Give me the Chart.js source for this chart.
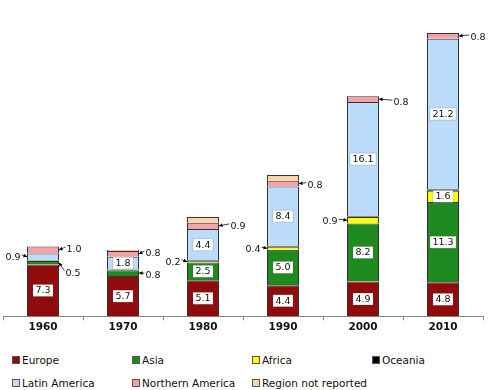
<!DOCTYPE html>
<html>
<head>
<meta charset="utf-8">
<script src="https://cdn.jsdelivr.net/npm/chart.js@4.4.1/dist/chart.umd.min.js"></script>
<style>
  body { margin: 0; background: #fff; font-family: "DejaVu Sans", Verdana, sans-serif; }
  #wrap { position: relative; width: 500px; height: 340px; }
  .leg { position: absolute; font-size: 10.5px; line-height: 12px; color: #111; white-space: nowrap; }
  .leg i { display: inline-block; width: 6px; height: 6px; border: 1px solid #555; margin-right: 2px; vertical-align: 0px; }
</style>
</head>
<body>
<div id="wrap"><canvas id="chart" width="500" height="340"></canvas></div>
<div id="legend"></div>
<script>
var years = ["1960", "1970", "1980", "1990", "2000", "2010"];
var europe = [7.3, 5.7, 5.1, 4.4, 4.9, 4.8];
var asia = [0.5, 0.8, 2.5, 5.0, 8.2, 11.3];
var africa = [0.1, 0.05, 0.2, 0.4, 0.9, 1.6];
var oceania = [0.05, 0.05, 0.1, 0.1, 0.1, 0.2];
var latinAmerica = [0.9, 1.8, 4.4, 8.4, 16.1, 21.2];
var northernAmerica = [1.0, 0.8, 0.9, 0.8, 0.8, 0.8];
var notReported = [0, 0.2, 0.8, 0.8, 0.05, 0];

var seriesNames = ["Europe", "Asia", "Africa", "Oceania", "Latin America", "Northern America", "Region not reported"];
var seriesColors = ["#900b0b", "#1f8a1f", "#ffff00", "#000000", "#bcdcfc", "#f4a2a8", "#fbd5aa"];
var seriesData = [europe, asia, africa, oceania, latinAmerica, northernAmerica, notReported];

// small segments labelled outside with an arrow: [year index, series index, side, dx, dy]
var callouts = [
  [0, 4, "left", -14, 0],
  [0, 5, "right", 15, -1],
  [0, 1, "right", 14, 10],
  [1, 5, "right", 14, -1],
  [1, 1, "right", 14, 2],
  [2, 2, "left", -14, 0],
  [2, 5, "right", 19, 0],
  [3, 2, "left", -14, 1],
  [3, 5, "right", 16, 1],
  [4, 2, "left", -17, 1],
  [4, 5, "right", 22, 3],
  [5, 5, "right", 19, 1]
];

var datasets = seriesNames.map(function (name, i) {
  return {
    label: name,
    data: seriesData[i],
    backgroundColor: seriesColors[i],
    borderColor: "#333",
    borderWidth: 1,
    categoryPercentage: 1,
    barPercentage: 0.4
  };
});

var labelFont = "9.5px 'DejaVu Sans', Verdana, sans-serif";

var barLabels = {
  id: "barLabels",
  afterDatasetsDraw: function (chart) {
    var ctx = chart.ctx;
    ctx.save();
    ctx.font = labelFont;
    ctx.textAlign = "center";
    ctx.textBaseline = "middle";
    // inside labels
    chart.data.datasets.forEach(function (ds, i) {
      if (i === 6) return;
      chart.getDatasetMeta(i).data.forEach(function (el, j) {
        var v = ds.data[j];
        if (v < 1.5) return;
        var cy = (el.y + el.base) / 2;
        var txt = v.toFixed(1);
        var w = ctx.measureText(txt).width;
        ctx.fillStyle = "#fff";
        ctx.fillRect(el.x - w / 2 - 2.5, cy - 6, w + 5, 12);
        ctx.strokeStyle = "rgba(0,0,0,0.15)";
        ctx.lineWidth = 1;
        ctx.strokeRect(el.x - w / 2 - 2.5, cy - 6, w + 5, 12);
        ctx.fillStyle = "#111";
        ctx.fillText(txt, el.x, cy + 0.5);
      });
    });
    // outside labels with arrows
    callouts.forEach(function (c) {
      var el = chart.getDatasetMeta(c[1]).data[c[0]];
      var v = chart.data.datasets[c[1]].data[c[0]];
      var ax = c[2] === "left" ? el.x - el.width / 2 : el.x + el.width / 2;
      var ay = (el.y + el.base) / 2;
      var lx = ax + c[3], ly = ay + c[4];
      var txt = v.toFixed(1);
      var w = ctx.measureText(txt).width;
      var sx = c[2] === "left" ? lx + w / 2 + 1 : lx - w / 2 - 1;
      var sy = ly - 2;
      ctx.fillStyle = "#111";
      ctx.fillText(txt, lx, ly + 0.5);
      ctx.strokeStyle = "#111";
      ctx.lineWidth = 0.8;
      ctx.beginPath();
      ctx.moveTo(sx, sy);
      ctx.lineTo(ax, ay);
      ctx.stroke();
      var ang = Math.atan2(ay - sy, ax - sx);
      ctx.fillStyle = "#000";
      ctx.beginPath();
      ctx.moveTo(ax, ay);
      ctx.lineTo(ax - 4 * Math.cos(ang - 0.5), ay - 4 * Math.sin(ang - 0.5));
      ctx.lineTo(ax - 4 * Math.cos(ang + 0.5), ay - 4 * Math.sin(ang + 0.5));
      ctx.closePath();
      ctx.fill();
    });
    ctx.restore();
  }
};

new Chart(document.getElementById("chart").getContext("2d"), {
  type: "bar",
  data: { labels: years, datasets: datasets },
  options: {
    responsive: false,
    animation: false,
    layout: { padding: { left: 3, right: 17, top: 4, bottom: 5 } },
    plugins: { legend: { display: false }, tooltip: { enabled: false } },
    scales: {
      x: {
        stacked: true,
        grid: { display: true, drawOnChartArea: false, drawTicks: true, tickLength: 4, color: "#888", offset: true },
        border: { color: "#888" },
        ticks: { color: "#111", padding: 1, font: { family: "'DejaVu Sans', Verdana, sans-serif", size: 10.5, weight: "bold" } }
      },
      y: { stacked: true, display: false, min: 0, max: 44 }
    }
  },
  plugins: [barLabels]
});

// legend in a fixed 4-column grid
var legendLeft = [12, 132, 252, 372];
var legendTop = [354, 377];
var legend = document.getElementById("legend");
seriesNames.forEach(function (name, i) {
  var d = document.createElement("div");
  d.className = "leg";
  d.style.left = legendLeft[i % 4] + "px";
  d.style.top = legendTop[Math.floor(i / 4)] + "px";
  var sw = document.createElement("i");
  sw.style.background = seriesColors[i];
  d.appendChild(sw);
  d.appendChild(document.createTextNode(name));
  legend.appendChild(d);
});
</script>
</body>
</html>
